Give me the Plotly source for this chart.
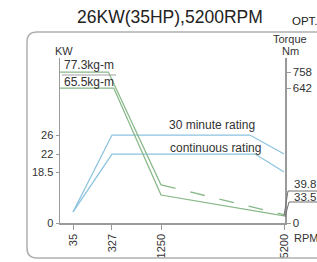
import numpy as np
import plotly.graph_objects as go

# ---------------- data ----------------
rpm_tick_vals = [35, 327, 1250, 5200]
kw_tick_vals = [0, 18.5, 22, 26]
torque_tick_vals = [0, 642, 758]

rpm_30min = [35, 327, 4100, 5200]
kw_30min = [4, 26, 26, 22]
rpm_cont = [35, 327, 4270, 5200]
kw_cont = [4, 22, 22, 18.5]

rpm_t30 = [0, 300, 1250, 5200]
torque_30min = [758, 758, 181, 39.8]
rpm_tc = [0, 360, 1250, 5200]
torque_cont = [642, 642, 133, 33.5]

# ---------------- schematic (non-linear) scales of the original drawing ----------------
RPM_SCALE = ([0, 35, 327, 1250, 5200], [0.0, 0.058, 0.231, 0.449, 0.996])
KW_SCALE = ([0, 18.5, 22, 26], [0.0, 0.309, 0.418, 0.533])
TQ_SCALE = ([0, 642, 758], [0.0, 0.818, 0.915])


def sx(v):
    return np.interp(v, *RPM_SCALE)


def skw(v):
    return np.interp(v, *KW_SCALE)


def stq(v):
    return np.interp(v, *TQ_SCALE)


W, H = 317, 262
ML, MR, MT, MB = 60, 32, 58, 39
PW, PH = W - ML - MR, H - MT - MB


# helpers converting window pixel positions to paper coordinates
def px(x):
    return (x - ML) / PW


def py(y):
    return (H - MB - y) / PH


FONT = "Liberation Sans, Arial, sans-serif"
BLUE = "#8cc2de"
GREEN = "#88b888"
AX = "#9a9a9a"
TXT = "#333333"

fig = go.Figure()

# power curves (blue)
fig.add_trace(go.Scatter(x=sx(rpm_30min), y=skw(kw_30min), mode="lines",
                         line=dict(color=BLUE, width=1.3), hoverinfo="skip", showlegend=False))
fig.add_trace(go.Scatter(x=sx(rpm_cont), y=skw(kw_cont), mode="lines",
                         line=dict(color=BLUE, width=1.3), hoverinfo="skip", showlegend=False))

# torque curves (green)
fig.add_trace(go.Scatter(x=sx(rpm_t30[:3]), y=stq(torque_30min[:3]), mode="lines",
                         line=dict(color=GREEN, width=1.3), hoverinfo="skip", showlegend=False))
fig.add_trace(go.Scatter(x=sx(rpm_t30[2:]), y=stq(torque_30min[2:]), mode="lines",
                         line=dict(color=GREEN, width=1.3, dash="longdash"), hoverinfo="skip",
                         showlegend=False))
fig.add_trace(go.Scatter(x=sx(rpm_tc), y=stq(torque_cont), mode="lines",
                         line=dict(color=GREEN, width=1.3), hoverinfo="skip", showlegend=False))
# invisible trace to enable right axis
fig.add_trace(go.Scatter(x=[None], y=[None], yaxis="y2", showlegend=False))

fig.update_layout(
    width=W, height=H, autosize=False,
    margin=dict(l=ML, r=MR, t=MT, b=MB, pad=0, autoexpand=False),
    paper_bgcolor="white", plot_bgcolor="white",
    font=dict(family=FONT, size=11, color=TXT),
    showlegend=False,
    hovermode=False,
    xaxis=dict(range=[0, 1], showgrid=False, zeroline=False, showline=True, automargin=False,
               linecolor=AX, linewidth=1.5, ticks="outside", ticklen=5, tickcolor=AX,
               tickvals=list(sx(rpm_tick_vals)), ticktext=[str(v) for v in rpm_tick_vals],
               tickangle=-90, tickfont=dict(size=11, color=TXT)),
    yaxis=dict(range=[0, 1], showgrid=False, zeroline=False, showline=True, automargin=False,
               linecolor=AX, linewidth=1.5, ticks="outside", ticklen=3, tickcolor=AX,
               tickvals=list(skw(kw_tick_vals)), ticktext=[str(v) for v in kw_tick_vals],
               tickfont=dict(size=11, color=TXT)),
    yaxis2=dict(range=[0, 1], overlaying="y", side="right", showgrid=False, zeroline=False,
                automargin=False,
                showline=True, linecolor=AX, linewidth=1.5, ticks="outside", ticklen=4,
                tickcolor=AX, tickvals=list(stq(torque_tick_vals)),
                ticktext=[str(v) for v in torque_tick_vals], tickfont=dict(size=11.5, color=TXT)),
)


def ann(text, x, y, size=11, xanchor="center", color=TXT):
    fig.add_annotation(text=text, x=px(x), y=py(y), xref="paper", yref="paper",
                       showarrow=False, xanchor=xanchor, yanchor="middle",
                       font=dict(family=FONT, size=size, color=color))


ann("26KW(35HP),5200RPM", 170, 17, size=17.5, color="#222222")
ann("OPT.", 290, 21, size=11.5, xanchor="left", color="#222222")
ann("KW", 64, 51, size=11)
ann("Torque", 290, 39, size=11)
ann("Nm", 290, 51, size=11)
ann("77.3kg-m", 62, 65, size=12, xanchor="left")
ann("65.5kg-m", 62, 82, size=12, xanchor="left")
ann("30 minute rating", 212, 125, size=12)
ann("continuous rating", 215, 148, size=12)
ann("39.8", 292, 184, size=11.5, xanchor="left")
ann("33.5", 292, 197, size=11.5, xanchor="left")
ann("RPM", 292, 238, size=11, xanchor="left")


def path(points, close=False):
    s = "M " + " L ".join(f"{px(a):.4f},{py(b):.4f}" for a, b in points)
    return s + (" Z" if close else "")


# rounded frame
r = 10
L, T, R, B = 27, 32, 345, 258
frame = (f"M {px(L):.4f},{py(B - r):.4f} L {px(L):.4f},{py(T + r):.4f} "
         f"Q {px(L):.4f},{py(T):.4f} {px(L + r):.4f},{py(T):.4f} "
         f"L {px(R):.4f},{py(T):.4f} L {px(R):.4f},{py(B):.4f} "
         f"L {px(L + r):.4f},{py(B):.4f} "
         f"Q {px(L):.4f},{py(B):.4f} {px(L):.4f},{py(B - r):.4f}")
fig.add_shape(type="path", path=frame, xref="paper", yref="paper",
              line=dict(color="#b0b0b0", width=1.5))

# label box lines
fig.add_shape(type="path", path=path([(62, 75), (116, 75)]), xref="paper", yref="paper",
              line=dict(color="#a0a0a0", width=1))
fig.add_shape(type="path", path=path([(284, 216), (288, 191), (320, 191)]), xref="paper",
              yref="paper", line=dict(color="#707070", width=1))
fig.add_shape(type="path", path=path([(285, 217), (289, 202), (320, 202)]), xref="paper",
              yref="paper", line=dict(color="#707070", width=1))

fig.write_html("out.html",
               config={"displayModeBar": False, "staticPlot": True},
               post_script="document.body.style.margin='0px';document.body.style.padding='0px';")
